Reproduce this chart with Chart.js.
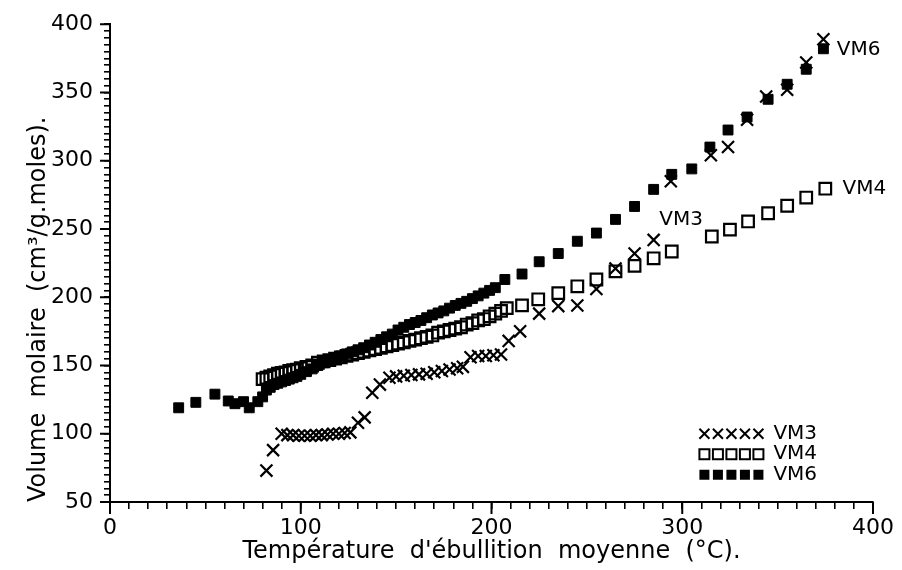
<!DOCTYPE html>
<html><head><meta charset="utf-8">
<script src="https://cdn.jsdelivr.net/npm/chart.js@4/dist/chart.umd.min.js"></script>
<style>html,body{margin:0;padding:0;background:#fff;}#wrap{width:902px;height:570px;}</style>
</head><body><div id="wrap"><canvas id="c" width="902" height="570"></canvas></div>
<script>
// ---- data ----
const seriesNames = ['VM3', 'VM4', 'VM6'];
const xTickLabels = ['0', '100', '200', '300', '400'];
const yTickLabels = ['50', '100', '150', '200', '250', '300', '350', '400'];
const xTitle = "Température  d'ébullition  moyenne  (°C).";
const yTitle = "Volume  molaire  (cm³/g.moles).";

const vm3T = [82, 85.5, 90, 93, 96, 99, 102, 105, 108, 111, 114, 117, 120, 123, 126, 130, 133.5, 137.5, 141.5, 146.5, 150, 154, 158, 162, 166, 170, 174, 178, 182, 185, 189, 193, 197, 201, 205, 209, 215, 225, 235, 245, 255, 265, 275, 285, 294, 315, 324, 334, 344, 355, 365, 374];
const vm3V = [73, 88, 100, 99, 99, 98.5, 98.5, 98.5, 99, 99, 99.5, 100, 100, 100.5, 101, 108, 112, 130, 136, 141, 142, 142.5, 143, 143.5, 144, 145, 146, 147, 148, 149, 156, 157, 157, 157.5, 158, 168, 175, 188, 193.5, 194, 206, 221, 232, 242, 285, 304, 310, 330, 347, 352, 372, 389];

const vm4T = [80, 82, 84, 86, 88, 90, 92, 94, 96, 98, 100, 103, 106, 109, 112, 115, 118, 121, 124, 127, 130, 133, 136, 139, 142, 145, 148, 151, 154, 157, 160, 163, 166, 169, 172, 175, 178, 181, 184, 187, 190, 193, 196, 199, 202, 205, 208, 216, 224.5, 235, 245, 255, 265, 275, 285, 294.5, 315.5, 325, 334.5, 345, 355, 365, 375];
const vm4V = [140, 141, 142, 143, 144, 144.5, 145, 146, 146.5, 147, 148, 149, 150, 152, 153, 154, 155, 156, 157, 158, 159, 160, 161, 162, 163, 164, 165, 166, 167, 168, 169, 170, 171, 172, 174, 175, 176, 177, 178, 180, 181, 183, 184, 186, 188, 190, 192, 194, 198.5, 203, 208, 213, 219, 223, 228.5, 233.5, 244.5, 249.5, 255.5, 261.5, 267, 273, 279.5];

const vm6T = [36, 45, 55, 62, 65.5, 70, 73, 77.5, 80, 82, 84, 86, 88, 90, 92, 94, 96, 98, 100, 103, 106, 109, 112, 115, 118, 121, 124, 127, 130, 133, 136, 139, 142, 145, 148, 151, 154, 157, 160, 163, 166, 169, 172, 175, 178, 181, 184, 187, 190, 193, 196, 199, 202, 207, 216, 225, 235, 245, 255, 265, 275, 285, 294.5, 305, 314.5, 324, 334, 345, 355, 365, 374];
const vm6V = [119, 123, 129, 124, 122, 123.5, 119, 123.5, 127, 132, 134, 136, 137, 138, 139, 140, 141, 142, 143.5, 145.5, 147.5, 150, 152, 154, 155.5, 157, 158.5, 160, 161.5, 163, 165, 167, 169, 171, 173, 176, 178, 180, 181.5, 183, 185, 187, 188.5, 190, 192, 194, 195.5, 197, 199, 201, 203, 205, 207, 213, 217, 226, 232, 241, 247, 257, 266.5, 279, 290, 294, 310, 322.5, 332, 345, 356, 367, 382];

// annotation anchors in data units
const directLabels = [
  {text: 'VM6', x: 381, y: 381.5},
  {text: 'VM4', x: 384, y: 279.5},
  {text: 'VM3', x: 288, y: 257}
];
const legendAnchor = {x: 309, y: 100};

function pts(t, v) { return t.map((x, i) => ({x: x, y: v[i]})); }

const FONT = "'DejaVu Sans', sans-serif";

function drawMarker(ctx, kind, x, y, h) {
  ctx.beginPath();
  if (kind === 'x') {
    ctx.moveTo(x - h, y - h); ctx.lineTo(x + h, y + h);
    ctx.moveTo(x + h, y - h); ctx.lineTo(x - h, y + h);
    ctx.stroke();
  } else if (kind === 'open') {
    ctx.strokeRect(x - h, y - h, 2 * h, 2 * h);
  } else {
    ctx.fillRect(x - h, y - h, 2 * h, 2 * h);
  }
}

const extras = {
  id: 'extras',
  afterDraw(chart) {
    const ctx = chart.ctx, xs = chart.scales.x, ys = chart.scales.y;
    const ca = chart.chartArea;
    ctx.save();
    ctx.strokeStyle = '#000'; ctx.fillStyle = '#000'; ctx.lineWidth = 2;
    // longer major ticks
    ctx.beginPath();
    for (let v = 0; v <= 400; v += 100) {
      const px = xs.getPixelForValue(v);
      ctx.moveTo(px, ca.bottom); ctx.lineTo(px, ca.bottom + 12);
    }
    for (let v = 50; v <= 400; v += 50) {
      const py = ys.getPixelForValue(v);
      ctx.moveTo(ca.left, py); ctx.lineTo(ca.left - 10, py);
    }
    ctx.stroke();
    // direct labels
    ctx.font = '20px ' + FONT;
    ctx.textBaseline = 'middle'; ctx.textAlign = 'left';
    directLabels.forEach(l => ctx.fillText(l.text, xs.getPixelForValue(l.x), ys.getPixelForValue(l.y)));
    // legend
    const lx = xs.getPixelForValue(legendAnchor.x), ly = ys.getPixelForValue(legendAnchor.y);
    const kinds = ['x', 'open', 'fill'];
    ctx.lineWidth = 2;
    seriesNames.forEach((name, r) => {
      const y = ly + r * 20.5;
      for (let i = 0; i < 5; i++) drawMarker(ctx, kinds[r], lx + 5 + i * 13.5, y, 5);
      ctx.fillText(name, lx + 74, y);
    });
    ctx.restore();
  }
};

new Chart(document.getElementById('c'), {
  type: 'scatter',
  data: {
    datasets: [
      {label: seriesNames[0], data: pts(vm3T, vm3V), pointStyle: 'crossRot', pointRadius: 8.5, borderColor: '#000', borderWidth: 2.2, backgroundColor: '#000'},
      {label: seriesNames[1], data: pts(vm4T, vm4V), pointStyle: 'rect', pointRadius: 8.2, borderColor: '#000', borderWidth: 2.2, backgroundColor: 'rgba(255,255,255,0)'},
      {label: seriesNames[2], data: pts(vm6T, vm6V), pointStyle: 'rect', pointRadius: 7, borderColor: '#000', borderWidth: 1, backgroundColor: '#000'}
    ]
  },
  options: {
    responsive: false, animation: false, devicePixelRatio: 1,
    layout: {padding: {top: 22, right: 29, left: 0, bottom: 0}},
    plugins: {legend: {display: false}, tooltip: {enabled: false}},
    scales: {
      x: {
        type: 'linear', min: 0, max: 400,
        afterFit(s) { s.height = 68; },
        border: {display: true, color: '#000', width: 2},
        grid: {drawOnChartArea: false, drawTicks: true, tickLength: 7, color: '#000', lineWidth: 1.6},
        ticks: {
          stepSize: 10, autoSkip: false, maxRotation: 0, color: '#000', padding: 6,
          font: {family: FONT, size: 22},
          callback: v => (v % 100 === 0 ? xTickLabels[v / 100] : '')
        },
        title: {display: true, text: xTitle, color: '#000', font: {family: FONT, size: 24}, padding: {top: 0, bottom: 4}}
      },
      y: {
        type: 'linear', min: 50, max: 400,
        afterFit(s) { s.width = 110; },
        border: {display: true, color: '#000', width: 2},
        grid: {drawOnChartArea: false, drawTicks: true, tickLength: 6, color: '#000', lineWidth: 1.6},
        ticks: {
          stepSize: 5, autoSkip: false, color: '#000', padding: 11,
          font: {family: FONT, size: 22},
          callback: v => (v % 50 === 0 ? yTickLabels[v / 50 - 1] : '')
        },
        title: {display: true, text: yTitle, align: 'start', color: '#000', font: {family: FONT, size: 24}, padding: {top: 24, bottom: 0}}
      }
    }
  },
  plugins: [extras]
});
</script></body></html>
